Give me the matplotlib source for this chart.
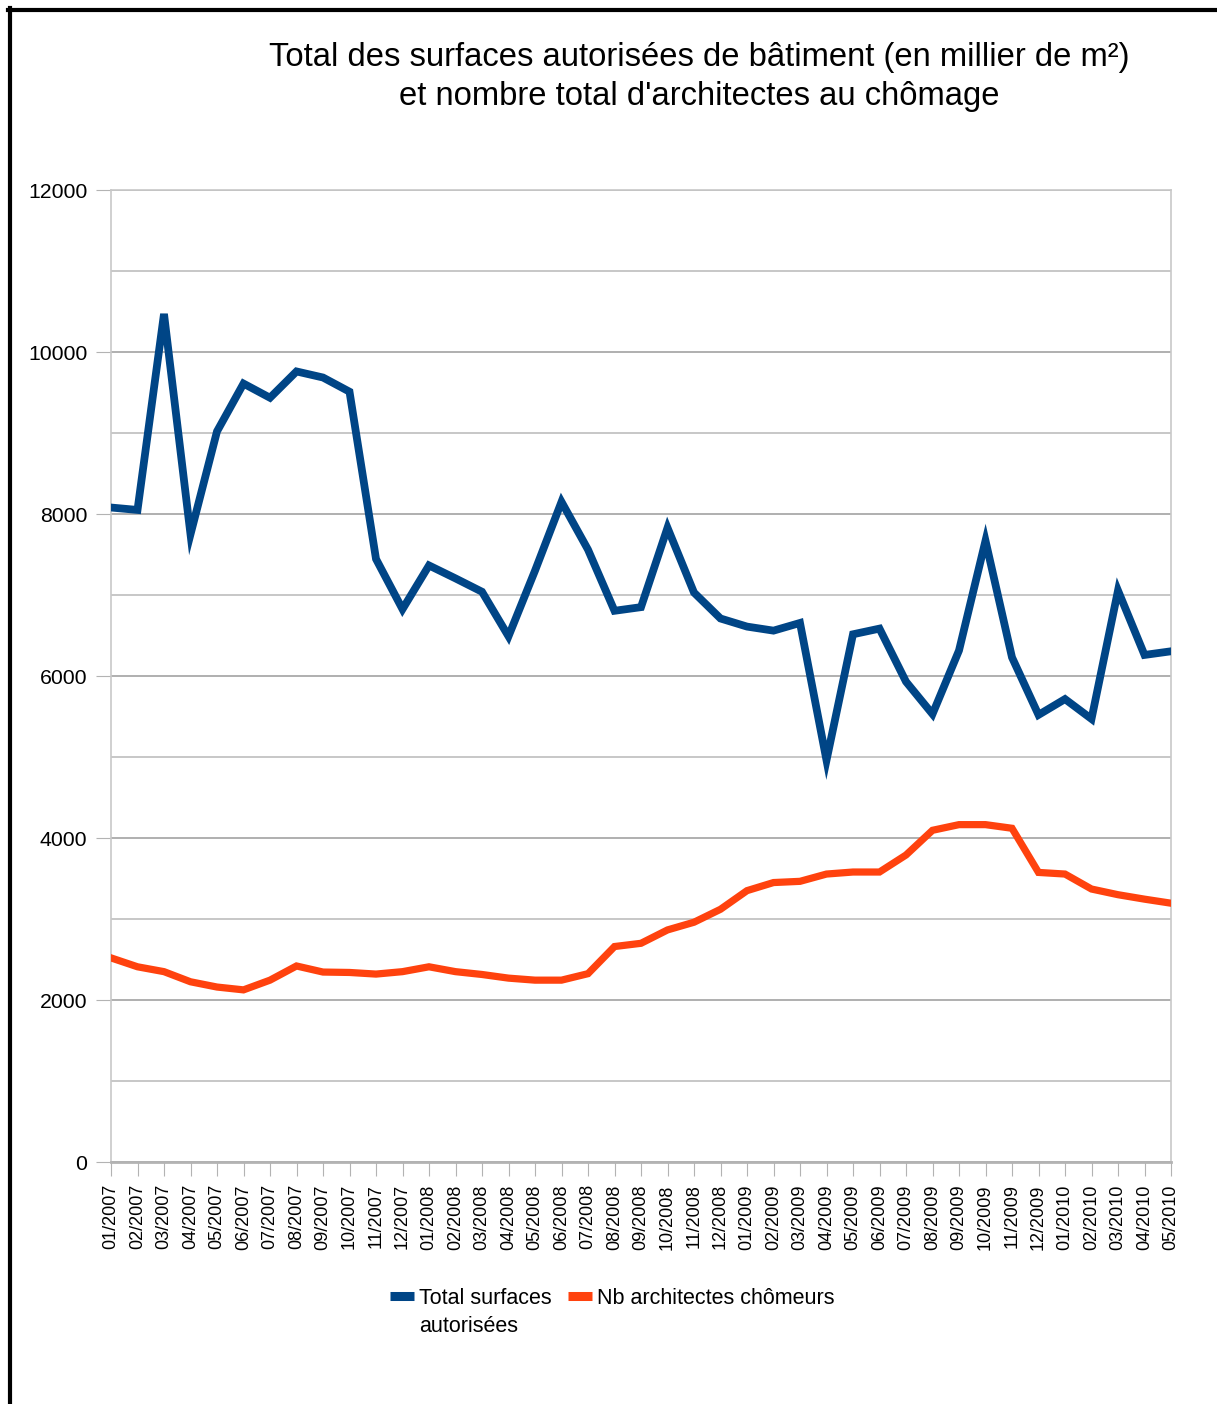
import matplotlib
matplotlib.use('Agg')
import matplotlib.pyplot as plt
from matplotlib.lines import Line2D
from matplotlib.ticker import MultipleLocator

plt.rcParams['font.family'] = ['Liberation Sans', 'DejaVu Sans']

months = ['01/2007', '02/2007', '03/2007', '04/2007', '05/2007', '06/2007', '07/2007',
          '08/2007', '09/2007', '10/2007', '11/2007', '12/2007',
          '01/2008', '02/2008', '03/2008', '04/2008', '05/2008', '06/2008', '07/2008',
          '08/2008', '09/2008', '10/2008', '11/2008', '12/2008',
          '01/2009', '02/2009', '03/2009', '04/2009', '05/2009', '06/2009', '07/2009',
          '08/2009', '09/2009', '10/2009', '11/2009', '12/2009',
          '01/2010', '02/2010', '03/2010', '04/2010', '05/2010']

surfaces = [8080, 8050, 10470, 7750, 9020, 9610, 9435, 9760, 9685, 9510, 7445, 6825,
            7365, 7205, 7040, 6490, 7300, 8150, 7560, 6805, 6850, 7830, 7030, 6710,
            6610, 6560, 6655, 4960, 6515, 6585, 5930, 5530, 6315, 7670, 6230, 5520,
            5715, 5470, 7055, 6260, 6305]

chomeurs = [2520, 2410, 2350, 2225, 2160, 2125, 2245, 2420, 2345, 2340, 2320, 2350,
            2410, 2350, 2315, 2270, 2245, 2245, 2325, 2660, 2700, 2865, 2960, 3120,
            3350, 3450, 3465, 3555, 3580, 3580, 3790, 4095, 4165, 4165, 4120, 3575,
            3555, 3370, 3300, 3245, 3195]

title = "Total des surfaces autorisées de bâtiment (en millier de m²)\net nombre total d'architectes au chômage"

W, H = 1217, 1404
fig = plt.figure(figsize=(W / 100, H / 100), dpi=100)
ax = fig.add_axes([111 / W, 1 - 1162 / H, (1171 - 111) / W, (1162 - 190) / H])

x = list(range(len(months)))
l1, = ax.plot(x, surfaces, color='#004586', lw=5.6, solid_joinstyle='miter', zorder=3)
l2, = ax.plot(x, chomeurs, color='#ff420e', lw=5.2, solid_joinstyle='miter', zorder=3)

ax.set_xlim(0, len(months) - 1)
ax.set_ylim(0, 12000)
ax.yaxis.set_major_locator(MultipleLocator(2000))
ax.yaxis.set_minor_locator(MultipleLocator(1000))
ax.set_xticks(x)
ax.set_xticklabels(months, rotation=90, fontsize=13)
ax.tick_params(axis='y', which='major', labelsize=15.3, length=11, color='#b3b3b3', pad=6)
ax.tick_params(axis='y', which='minor', length=0)
ax.tick_params(axis='x', length=10, color='#b3b3b3', pad=6)

ax.grid(axis='y', which='major', color='#9a9a9a', lw=1.1)
ax.grid(axis='y', which='minor', color='#b8b8b8', lw=1.1)
ax.set_axisbelow(True)
for s in ['left', 'right', 'top']:
    ax.spines[s].set_color('#c8c8c8')
    ax.spines[s].set_linewidth(1.2)
ax.spines['bottom'].set_color('#b3b3b3')
ax.spines['bottom'].set_linewidth(2)

fig.text(699 / W, 1 - 42 / H, title, ha='center', va='top', fontsize=23.6, linespacing=1.32)

# frame lines (top and left only)
fig.add_artist(Line2D([8 / W, 1], [1 - 10 / H, 1 - 10 / H], transform=fig.transFigure,
                      color='black', lw=3))
fig.add_artist(Line2D([10 / W, 10 / W], [0, 1 - 8 / H], transform=fig.transFigure,
                      color='black', lw=3))

leg = fig.legend([l1, l2], ['Total surfaces', 'Nb architectes chômeurs'],
                 loc='upper left', bbox_to_anchor=(390 / W, 1 - 1288 / H),
                 ncol=2, frameon=False, fontsize=15.5, handlelength=1.1,
                 handletextpad=0.25, columnspacing=0.75, borderpad=0, borderaxespad=0)
for h in leg.legend_handles:
    h.set_linewidth(6.5)
    h.set_solid_capstyle('butt')

fig.canvas.draw()
bb = leg.get_texts()[0].get_window_extent()
fig.text(bb.x0 / W, (bb.y0 - 7) / H, 'autorisées', ha='left', va='top', fontsize=15.5)

fig.savefig('out.png', dpi=100, facecolor='white')
